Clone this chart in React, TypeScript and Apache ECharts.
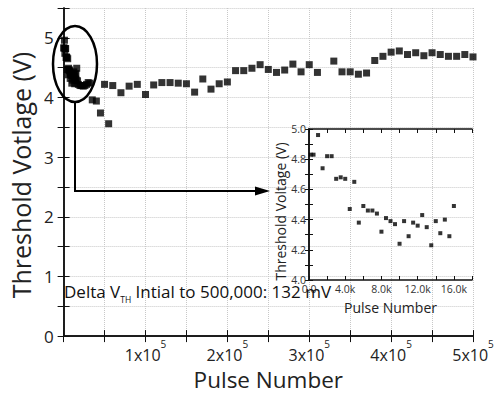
import React, { useEffect, useRef } from "react";
import * as echarts from "echarts";

// Inset data: first 16k pulses
const earlyPulses = [200, 500, 1000, 1500, 2000, 2500, 3000, 3500, 4000, 4500, 5000, 5500, 6000, 6500, 7000, 7500, 8000, 8500, 9000, 9500, 10000, 10500, 11000, 11500, 12000, 12500, 13000, 13500, 14000, 14500, 15000, 15500, 16000];
const earlyVth = [4.83, 4.83, 4.96, 4.74, 4.82, 4.82, 4.67, 4.68, 4.67, 4.47, 4.65, 4.38, 4.49, 4.46, 4.46, 4.44, 4.32, 4.41, 4.39, 4.37, 4.24, 4.39, 4.29, 4.38, 4.36, 4.43, 4.35, 4.23, 4.39, 4.31, 4.40, 4.29, 4.49];

// Later pulses (main chart only)
const laterPulses = [17000, 18000, 20000, 22000, 24000, 26000, 28000, 30000, 32000, 35000, 40000, 45000, 50000, 55000, 60000, 70000, 80000, 90000, 100000, 110000, 120000, 130000, 140000, 150000, 160000, 170000, 180000, 190000, 200000, 210000, 220000, 230000, 240000, 250000, 260000, 270000, 280000, 290000, 300000, 310000, 330000, 340000, 350000, 360000, 370000, 380000, 390000, 400000, 410000, 420000, 430000, 440000, 450000, 460000, 470000, 480000, 490000, 500000];
const laterVth = [4.28, 4.22, 4.20, 4.20, 4.19, 4.20, 4.22, 4.25, 4.24, 3.96, 3.94, 3.74, 4.22, 3.56, 4.20, 4.08, 4.19, 4.22, 4.05, 4.21, 4.25, 4.25, 4.24, 4.23, 4.09, 4.31, 4.14, 4.23, 4.26, 4.45, 4.45, 4.49, 4.55, 4.47, 4.42, 4.46, 4.56, 4.43, 4.55, 4.42, 4.61, 4.43, 4.43, 4.39, 4.41, 4.62, 4.69, 4.76, 4.78, 4.72, 4.75, 4.70, 4.75, 4.72, 4.69, 4.69, 4.72, 4.68];

const FONT = "'Open Sans', 'DejaVu Sans', sans-serif";

export default function App() {
  const ref = useRef<HTMLDivElement>(null);
  useEffect(() => {
    document.body.style.margin = "0";
    if (!ref.current) return;
    const chart = echarts.init(ref.current, null, { renderer: "svg" });
    const early = earlyPulses.map((p, i) => [p, earlyVth[i]]);
    const later = laterPulses.map((p, i) => [p, laterVth[i]]);
    const axisLine = { show: true, lineStyle: { color: "#111", width: 1.5 } };
    const dotted = { show: true, lineStyle: { color: "#c8c8c8", type: "dotted", width: 1 } };
    chart.setOption({
      animation: false,
      backgroundColor: "#fff",
      textStyle: { fontFamily: FONT },
      grid: [
        { left: 62, right: 30, top: 8, bottom: 55 },
        { left: 309, top: 129, width: 163, height: 151 },
      ],
      xAxis: [
        {
          type: "value", gridIndex: 0, min: 0, max: 500000, interval: 50000,
          axisLine, axisTick: { inside: true, length: 6, lineStyle: { color: "#111" } },
          splitLine: dotted,
          axisLabel: {
            margin: 3, color: "#222",
            formatter: (v: number) => (v > 0 && v % 100000 === 0 ? `{a|${v / 100000}x10}{b|5}` : ""),
            rich: {
              a: { fontSize: 16, fontFamily: FONT, color: "#222", lineHeight: 32 },
              b: { fontSize: 10, fontFamily: FONT, color: "#222", verticalAlign: "top", lineHeight: 12 },
            },
          },
          name: "Pulse Number", nameLocation: "middle", nameGap: 28,
          nameTextStyle: { fontSize: 22.5, color: "#222", fontFamily: FONT },
        },
        {
          type: "value", gridIndex: 0, position: "top", min: 0, max: 500000, interval: 50000,
          axisLine, axisTick: { inside: true, length: 6, lineStyle: { color: "#111" } },
          axisLabel: { show: false }, splitLine: { show: false },
        },
        {
          type: "value", gridIndex: 1, min: 0, max: 18000, interval: 2000,
          axisLine, axisTick: { inside: true, length: 4, lineStyle: { color: "#111" } },
          splitLine: { show: false },
          axisLabel: {
            margin: 3, fontSize: 10.5, color: "#333",
            formatter: (v: number) => (v % 4000 === 0 ? (v === 0 ? "0.0" : (v / 1000).toFixed(1) + "k") : ""),
          },
          name: "Pulse Number", nameLocation: "middle", nameGap: 20,
          nameTextStyle: { fontSize: 14, color: "#222", fontFamily: FONT },
        },
        {
          type: "value", gridIndex: 1, position: "top", min: 0, max: 18000, interval: 2000,
          axisLine, axisTick: { inside: true, length: 4, lineStyle: { color: "#111" } },
          axisLabel: { show: false }, splitLine: { show: false },
        },
      ],
      yAxis: [
        {
          type: "value", gridIndex: 0, min: 0, max: 5.5, interval: 0.5,
          axisLine, axisTick: { inside: true, length: 6, lineStyle: { color: "#111" } },
          splitLine: dotted,
          axisLabel: {
            margin: 10, fontSize: 17, color: "#222",
            formatter: (v: number) => (Math.abs(v - Math.round(v)) < 1e-6 ? String(Math.round(v)) : ""),
          },
          name: "Threshold Votlage (V)", nameLocation: "middle", nameGap: 29,
          nameTextStyle: { fontSize: 25, color: "#222", fontFamily: FONT, padding: [0, 6, 0, 0] },
        },
        {
          type: "value", gridIndex: 0, position: "right", min: 0, max: 5.5, interval: 0.5,
          axisLine, axisTick: { inside: true, length: 6, lineStyle: { color: "#111" } },
          axisLabel: { show: false }, splitLine: { show: false },
        },
        {
          type: "value", gridIndex: 1, min: 4, max: 5, interval: 0.1,
          axisLine, axisTick: { inside: true, length: 4, lineStyle: { color: "#111" } },
          splitLine: { show: false },
          axisLabel: {
            margin: 3, fontSize: 10.5, color: "#333",
            formatter: (v: number) => (Math.round(v * 10) % 2 === 0 ? v.toFixed(1) : ""),
          },
          name: "Threshold Voltage (V)", nameLocation: "middle", nameGap: 22,
          nameTextStyle: { fontSize: 14, color: "#222", fontFamily: FONT, padding: [0, 14, 0, 0] },
        },
        {
          type: "value", gridIndex: 1, position: "right", min: 4, max: 5, interval: 0.1,
          axisLine, axisTick: { inside: true, length: 4, lineStyle: { color: "#111" } },
          axisLabel: { show: false }, splitLine: { show: false },
        },
      ],
      series: [
        {
          type: "scatter", xAxisIndex: 0, yAxisIndex: 0, symbol: "rect", symbolSize: 7,
          itemStyle: { color: "#000" }, data: early.concat(later),
        },
        {
          type: "scatter", xAxisIndex: 2, yAxisIndex: 2, symbol: "rect", symbolSize: 4,
          itemStyle: { color: "#000" }, data: early,
        },
      ],
      graphic: [
        {
          type: "ellipse", shape: { cx: 75, cy: 64, rx: 22, ry: 38 },
          style: { fill: "none", stroke: "#000", lineWidth: 2.5 }, z: 100,
        },
        {
          type: "polyline", shape: { points: [[75, 102], [75, 191], [256, 191]] },
          style: { fill: "none", stroke: "#000", lineWidth: 2 }, z: 100,
        },
        {
          type: "polygon", shape: { points: [[255, 186.5], [270, 191], [255, 195.5]] },
          style: { fill: "#000" }, z: 100,
        },
        {
          type: "text", x: 64, y: 291, z: 100,
          style: {
            text: "{a|Delta V}{b|TH}{a| Intial to 500,000: 132 mV}",
            verticalAlign: "middle",
            fill: "#111",
            rich: {
              a: { fontSize: 17, fontFamily: FONT, fill: "#111", color: "#111", lineHeight: 26 },
              b: { fontSize: 8.5, fontFamily: FONT, fill: "#111", color: "#111", verticalAlign: "bottom" },
            },
          },
        },
      ],
    });
    return () => chart.dispose();
  }, []);
  return <div ref={ref} style={{ width: 503, height: 396 }} />;
}
